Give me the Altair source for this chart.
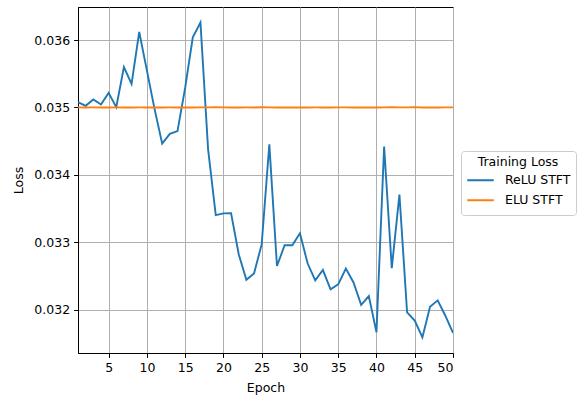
import altair as alt
import pandas as pd

epochs = list(range(1, 51))
relu = [0.03508, 0.035025, 0.03512, 0.035044, 0.035217, 0.035006, 0.0356, 0.03535, 0.03612, 0.03555,
        0.03498, 0.034464, 0.03461, 0.03465, 0.03529, 0.03604, 0.03626, 0.03438, 0.033405, 0.03343,
        0.033434, 0.032824, 0.032445, 0.03254, 0.03297, 0.034453, 0.03265, 0.032957, 0.032957, 0.033134,
        0.03269, 0.032436, 0.03259, 0.032303, 0.032377, 0.032613, 0.032406, 0.032075, 0.032204, 0.031668,
        0.03442, 0.032617, 0.03371, 0.031963, 0.03184, 0.03159, 0.032046, 0.03214, 0.031913, 0.031657]
elu = [0.035002, 0.035001, 0.035002, 0.035001, 0.035001, 0.035002, 0.035001, 0.035001, 0.035002, 0.035001,
       0.035001, 0.035001, 0.035002, 0.035001, 0.035001, 0.035001, 0.035002, 0.035002, 0.035006, 0.035002,
       0.035001, 0.035001, 0.035002, 0.035001, 0.035003, 0.035002, 0.035001, 0.035001, 0.035001, 0.035001,
       0.035001, 0.035002, 0.035001, 0.035001, 0.035002, 0.035002, 0.035001, 0.035001, 0.035001, 0.035001,
       0.035002, 0.035006, 0.035002, 0.035002, 0.035006, 0.035001, 0.035001, 0.035001, 0.035002, 0.035002]
series = ["ReLU STFT", "ELU STFT"]
colors = ["#1f77b4", "#ff7f0e"]
x_ticks = [5, 10, 15, 20, 25, 30, 35, 40, 45, 50]
y_ticks = [0.032, 0.033, 0.034, 0.035, 0.036]

df = pd.DataFrame({
    "Epoch": epochs * 2,
    "Loss": relu + elu,
    "Series": [series[0]] * len(epochs) + [series[1]] * len(epochs),
})

font = "DejaVu Sans"
fs = 12.5

chart = alt.Chart(df).mark_line(strokeWidth=1.9, clip=True).encode(
    x=alt.X("Epoch:Q", scale=alt.Scale(domain=[1, 50], nice=False, zero=False),
            axis=alt.Axis(values=x_ticks, title="Epoch", format="d")),
    y=alt.Y("Loss:Q", scale=alt.Scale(domain=[0.03136, 0.03649], nice=False, zero=False),
            axis=alt.Axis(values=y_ticks, title="Loss", format=".3f")),
    color=alt.Color("Series:N", sort=series,
                    scale=alt.Scale(domain=series, range=colors),
                    legend=alt.Legend(title="Training Loss", orient="none", legendX=383, legendY=144,
                                      symbolType="stroke", symbolSize=700, symbolStrokeWidth=1.9,
                                      clipHeight=19.5, rowPadding=0,
                                      fillColor="white", strokeColor="#cccccc", cornerRadius=3,
                                      padding=5, titleAnchor="middle", titleAlign="center",
                                      titleFont=font, titleFontSize=fs, titleFontWeight="normal",
                                      titleColor="black", labelFont=font, labelFontSize=fs,
                                      labelColor="black", titlePadding=2,
                                      labelOffset=10)),
    order=alt.Order("Epoch:Q"),
).properties(
    width=375, height=346,
    autosize=alt.AutoSizeParams(type="none"),
    padding={"left": 78, "top": 7, "right": 127, "bottom": 45},
).configure_view(
    stroke="black", strokeWidth=1
).configure_axis(
    grid=True, gridColor="#b0b0b0", gridWidth=1,
    domainColor="black", domainWidth=1,
    tickColor="black", tickSize=4.4, tickWidth=1,
    labelFont=font, labelFontSize=fs, labelColor="black", labelPadding=4,
    titleFont=font, titleFontSize=fs, titleFontWeight="normal", titleColor="black",
).configure_axisX(titlePadding=8).configure_axisY(titlePadding=8)

chart.save("out.html", embed_options={"renderer": "svg", "actions": False})
